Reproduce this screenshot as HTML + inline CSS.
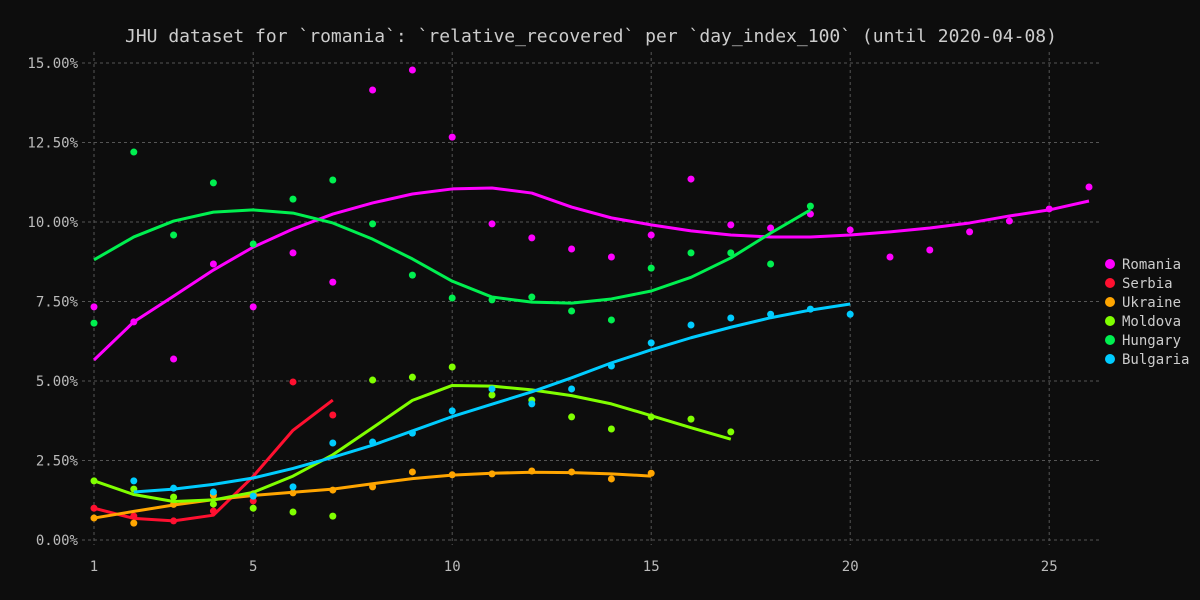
<!DOCTYPE html>
<html><head><meta charset="utf-8"><style>
html,body{margin:0;padding:0;background:#0d0d0d;}
svg{display:block;font-family:"DejaVu Sans Mono","Liberation Mono",monospace;}
</style></head><body>
<svg id="chart" width="1200" height="600">
<rect width="1200" height="600" fill="#0d0d0d"/>
<text x="591" y="42" text-anchor="middle" fill="#cccccc" font-size="18">JHU dataset for `romania`: `relative_recovered` per `day_index_100` (until 2020-04-08)</text>
<g id="grid"></g><g id="series"></g><g id="legend"></g>
</svg>
<script>
const xTicks=[1,5,10,15,20,25];
const yTicks=[0,2.5,5,7.5,10,12.5,15];
const names=["Romania","Serbia","Ukraine","Moldova","Hungary","Bulgaria"];
const colors=["#ff00ff","#ff1030","#ffa500","#80ff00","#00f050","#00ccff"];
const startDays=[1,1,1,1,1,2];
const romaniaPts=[7.33,6.86,5.69,8.68,7.33,9.03,8.11,14.15,14.78,12.67,9.94,9.5,9.15,8.9,9.59,11.35,9.91,9.81,10.25,9.75,8.9,9.12,9.69,10.03,10.41,11.1];
const romaniaLine=[5.66,6.86,7.67,8.49,9.21,9.78,10.25,10.6,10.88,11.04,11.07,10.91,10.47,10.13,9.91,9.72,9.59,9.53,9.53,9.59,9.69,9.81,9.97,10.19,10.38,10.66];
const serbiaPts=[1.0,0.75,0.6,0.91,1.23,4.97,3.93];
const serbiaLine=[1.0,0.68,0.6,0.78,2.0,3.45,4.4];
const ukrainePts=[0.69,0.53,1.12,1.41,1.45,1.48,1.57,1.67,2.14,2.05,2.08,2.17,2.14,1.92,2.1];
const ukraineLine=[0.69,0.9,1.1,1.27,1.4,1.5,1.6,1.77,1.93,2.04,2.1,2.13,2.12,2.08,2.01];
const moldovaPts=[1.86,1.6,1.35,1.13,1.0,0.88,0.75,5.03,5.12,5.44,4.56,4.4,3.87,3.49,3.87,3.8,3.4];
const moldovaLine=[1.86,1.43,1.21,1.26,1.5,2.01,2.68,3.53,4.39,4.86,4.84,4.72,4.54,4.28,3.91,3.53,3.17];
const hungaryPts=[6.82,12.2,9.59,11.23,9.31,10.72,11.32,9.94,8.33,7.61,7.55,7.64,7.2,6.92,8.55,9.03,9.03,8.68,10.5];
const hungaryLine=[8.81,9.53,10.03,10.31,10.38,10.28,9.97,9.46,8.84,8.14,7.64,7.48,7.45,7.58,7.83,8.26,8.87,9.65,10.38];
const bulgariaPts=[1.86,1.63,1.51,1.38,1.67,3.05,3.08,3.36,4.06,4.75,4.28,4.75,5.47,6.2,6.76,6.98,7.1,7.26,7.1];
const bulgariaLine=[1.51,1.6,1.75,1.95,2.25,2.6,2.98,3.43,3.88,4.27,4.66,5.1,5.57,5.98,6.36,6.69,6.99,7.23,7.42];
const ptsAll=[romaniaPts,serbiaPts,ukrainePts,moldovaPts,hungaryPts,bulgariaPts];
const linesAll=[romaniaLine,serbiaLine,ukraineLine,moldovaLine,hungaryLine,bulgariaLine];

const NS="http://www.w3.org/2000/svg";
const xs=d=>94+(d-1)*39.8;
const ys=v=>540-v*(477/15);
function mk(tag,attrs,parent){const e=document.createElementNS(NS,tag);for(const k in attrs)e.setAttribute(k,attrs[k]);parent.appendChild(e);return e;}
const grid=document.getElementById('grid');
yTicks.forEach(t=>{
  const l=mk('line',{x1:82,x2:1102,y1:ys(t),y2:ys(t),stroke:'#555','stroke-dasharray':'3,3','stroke-width':1},grid);
  
  
  const tx=mk('text',{x:78,y:ys(t)+5,'text-anchor':'end',fill:'#bbbbbb','font-size':14},grid);
  tx.textContent=t.toFixed(2)+'%';
  
  
});
xTicks.forEach(t=>{
  const l=mk('line',{x1:xs(t),x2:xs(t),y1:52,y2:545,stroke:'#555','stroke-dasharray':'3,3','stroke-width':1},grid);
  
  
  const tx=mk('text',{x:xs(t),y:571,'text-anchor':'middle',fill:'#bbbbbb','font-size':14},grid);
  tx.textContent=t;
  
  
});
const sg=document.getElementById('series');
names.forEach((n,i)=>{
  const s0=startDays[i];
  const p=mk('polyline',{points:linesAll[i].map((v,j)=>xs(s0+j)+','+ys(v)).join(' '),fill:'none',stroke:colors[i],'stroke-width':3,'stroke-linejoin':'round'},sg);
  
  
  ptsAll[i].forEach((v,j)=>{
    const c=mk('circle',{cx:xs(s0+j),cy:ys(v),r:3.5,fill:colors[i]},sg);
    
    
  });
});
const lg=document.getElementById('legend');
names.forEach((n,i)=>{
  const y=264+i*19;
  const c=mk('circle',{cx:1110,cy:y,r:5,fill:colors[i]},lg);
  
  
  const t=mk('text',{x:1122,y:y+5,fill:'#cccccc','font-size':14},lg);
  t.textContent=n;
  
  
});
</script>
</body></html>
